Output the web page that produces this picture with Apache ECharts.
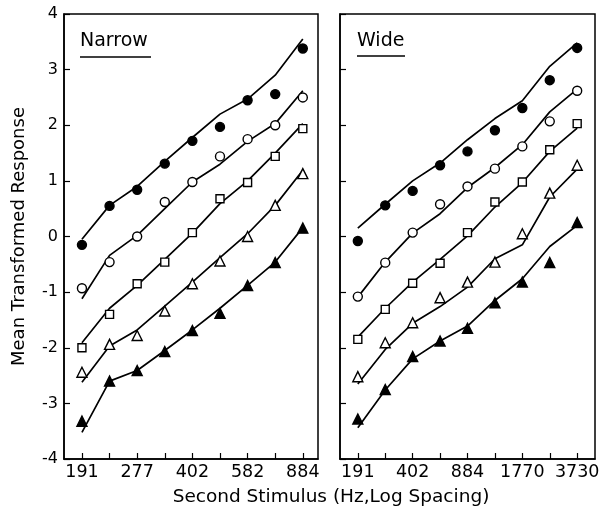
<!DOCTYPE html>
<html>
<head>
<meta charset="utf-8">
<title>Narrow / Wide</title>
<script src="https://cdn.jsdelivr.net/npm/echarts@6.0.0/dist/echarts.min.js"></script>
<style>
    html, body { margin: 0; padding: 0; background: #fff; }
    #chart { width: 613px; height: 517px; }
</style>
</head>
<body>
<div id="chart"></div>
<script>
    // stimulus positions (log spacing), 9 steps per panel
    const steps = [0, 1, 2, 3, 4, 5, 6, 7, 8];
    const narrowLabels = ["191", "", "277", "", "402", "", "582", "", "884"];
    const wideLabels = ["191", "", "402", "", "884", "", "1770", "", "3730"];

    // Narrow: observed points
    const nFilledCircle = [-0.15, 0.55, 0.84, 1.31, 1.72, 1.97, 2.45, 2.56, 3.38];
    const nOpenCircle = [-0.93, -0.46, 0.0, 0.62, 0.98, 1.44, 1.75, 2.0, 2.5];
    const nSquare = [-2.0, -1.4, -0.85, -0.46, 0.07, 0.68, 0.97, 1.44, 1.94];
    const nOpenTri = [-2.44, -1.94, -1.78, -1.34, -0.85, -0.44, 0.0, 0.56, 1.13];
    const nFilledTri = [-3.32, -2.6, -2.41, -2.07, -1.69, -1.38, -0.88, -0.47, 0.15];

    // Narrow: fitted lines
    const nFitFilledCircle = [-0.05, 0.56, 0.9, 1.35, 1.78, 2.2, 2.47, 2.9, 3.55];
    const nFitOpenCircle = [-1.12, -0.34, 0.02, 0.5, 0.98, 1.3, 1.71, 2.03, 2.62];
    const nFitSquare = [-1.91, -1.29, -0.88, -0.41, 0.06, 0.59, 1.0, 1.5, 2.03];
    const nFitOpenTri = [-2.62, -1.97, -1.68, -1.25, -0.82, -0.38, 0.05, 0.56, 1.19];
    const nFitFilledTri = [-3.52, -2.6, -2.41, -2.05, -1.68, -1.29, -0.88, -0.46, 0.16];

    // Wide: observed points
    const wFilledCircle = [-0.08, 0.56, 0.82, 1.28, 1.53, 1.91, 2.31, 2.81, 3.39];
    const wOpenCircle = [-1.08, -0.47, 0.07, 0.58, 0.9, 1.22, 1.62, 2.07, 2.62];
    const wSquare = [-1.85, -1.31, -0.84, -0.48, 0.07, 0.62, 0.98, 1.56, 2.03];
    const wOpenTri = [-2.52, -1.91, -1.55, -1.1, -0.82, -0.46, 0.05, 0.78, 1.28];
    const wFilledTri = [-3.28, -2.75, -2.16, -1.88, -1.65, -1.19, -0.82, -0.47, 0.25];

    // Wide: fitted lines
    const wFitFilledCircle = [0.15, 0.58, 1.0, 1.32, 1.74, 2.12, 2.44, 3.06, 3.48];
    const wFitOpenCircle = [-1.09, -0.46, 0.06, 0.41, 0.88, 1.24, 1.65, 2.24, 2.65];
    const wFitSquare = [-1.81, -1.29, -0.82, -0.41, 0.01, 0.53, 0.97, 1.53, 1.95];
    const wFitOpenTri = [-2.65, -2.03, -1.56, -1.26, -0.91, -0.4, -0.15, 0.71, 1.21];
    const wFitFilledTri = [-3.44, -2.76, -2.2, -1.88, -1.61, -1.15, -0.76, -0.18, 0.2];

    const FONT = "DejaVu Sans";

    function pairs(vals) {
        return steps.map((s, i) => [s, vals[i]]);
    }

    // marker styles: filled circle, open circle, open square, open triangle, filled triangle
    const markers = [
        {symbol: "circle", size: 9, fill: "#000"},
        {symbol: "circle", size: 9, fill: "#fff"},
        {symbol: "rect", size: 8, fill: "#fff"},
        {symbol: "triangle", size: 10, fill: "#fff"},
        {symbol: "triangle", size: 10, fill: "#000"}
    ];

    function panelSeries(idx, points, fits) {
        let out = [];
        fits.forEach((f) => {
            out.push({
                type: "line",
                xAxisIndex: idx,
                yAxisIndex: idx,
                data: pairs(f),
                showSymbol: false,
                lineStyle: {color: "#000", width: 1.7},
                silent: true
            });
        });
        points.forEach((p, k) => {
            let m = markers[k];
            out.push({
                type: "scatter",
                xAxisIndex: idx,
                yAxisIndex: idx,
                data: pairs(p),
                symbol: m.symbol,
                symbolSize: m.size,
                itemStyle: {color: m.fill, borderColor: "#000", borderWidth: 1.4, opacity: 1},
                z: 5
            });
        });
        return out;
    }

    function xAxisFor(idx, labels, min, max) {
        return {
            type: "value",
            gridIndex: idx,
            min: min,
            max: max,
            axisLine: {show: true, onZero: false, lineStyle: {color: "#000", width: 1.5}},
            axisTick: {show: true, inside: true, length: 6, customValues: steps,
                lineStyle: {color: "#000", width: 1.2}},
            axisLabel: {
                show: true,
                customValues: [0, 2, 4, 6, 8],
                formatter: (v) => labels[Math.round(v)],
                color: "#000",
                fontFamily: FONT,
                fontSize: 17.5,
                margin: 4
            },
            splitLine: {show: false}
        };
    }

    function yAxisFor(idx, showLabels) {
        let ax = {
            type: "value",
            gridIndex: idx,
            min: -4,
            max: 4,
            interval: 1,
            axisLine: {show: true, onZero: false, lineStyle: {color: "#000", width: 1.5}},
            axisTick: {show: true, inside: true, length: 6, lineStyle: {color: "#000", width: 1.2}},
            axisLabel: {
                show: showLabels,
                color: "#000",
                fontFamily: FONT,
                fontSize: 16,
                margin: 6
            },
            splitLine: {show: false}
        };
        if (showLabels) {
            ax.name = "Mean Transformed Response";
            ax.nameLocation = "middle";
            ax.nameGap = 36;
            ax.nameTextStyle = {color: "#000", fontFamily: FONT, fontSize: 18};
        }
        return ax;
    }

    let chart = echarts.init(document.getElementById("chart"), null, {renderer: "canvas"});

    let option = {
        backgroundColor: "#fff",
        animation: false,
        grid: [
            {left: 64, top: 14, width: 254, height: 445, show: true, borderColor: "#000", borderWidth: 1.5},
            {left: 340, top: 14, width: 255, height: 445, show: true, borderColor: "#000", borderWidth: 1.5}
        ],
        xAxis: [
            xAxisFor(0, narrowLabels, -0.65, 8.55),
            xAxisFor(1, wideLabels, -0.65, 8.65)
        ],
        yAxis: [
            yAxisFor(0, true),
            yAxisFor(1, false)
        ],
        graphic: [
            {type: "text", left: 80, top: 32,
                style: {text: "Narrow", fill: "#000", font: "19px " + FONT}},
            {type: "line", shape: {x1: 80, y1: 57, x2: 151, y2: 57},
                style: {stroke: "#000", lineWidth: 1.6}},
            {type: "text", left: 357, top: 32,
                style: {text: "Wide", fill: "#000", font: "19px " + FONT}},
            {type: "line", shape: {x1: 357, y1: 56, x2: 405, y2: 56},
                style: {stroke: "#000", lineWidth: 1.6}},
            {type: "text", x: 331, y: 497,
                style: {text: "Second Stimulus (Hz,Log Spacing)", fill: "#000",
                    font: "18.5px " + FONT, align: "center", verticalAlign: "middle"}}
        ],
        series: panelSeries(0,
                [nFilledCircle, nOpenCircle, nSquare, nOpenTri, nFilledTri],
                [nFitFilledCircle, nFitOpenCircle, nFitSquare, nFitOpenTri, nFitFilledTri])
            .concat(panelSeries(1,
                [wFilledCircle, wOpenCircle, wSquare, wOpenTri, wFilledTri],
                [wFitFilledCircle, wFitOpenCircle, wFitSquare, wFitOpenTri, wFitFilledTri]))
    };

    chart.setOption(option);
</script>
</body>
</html>
